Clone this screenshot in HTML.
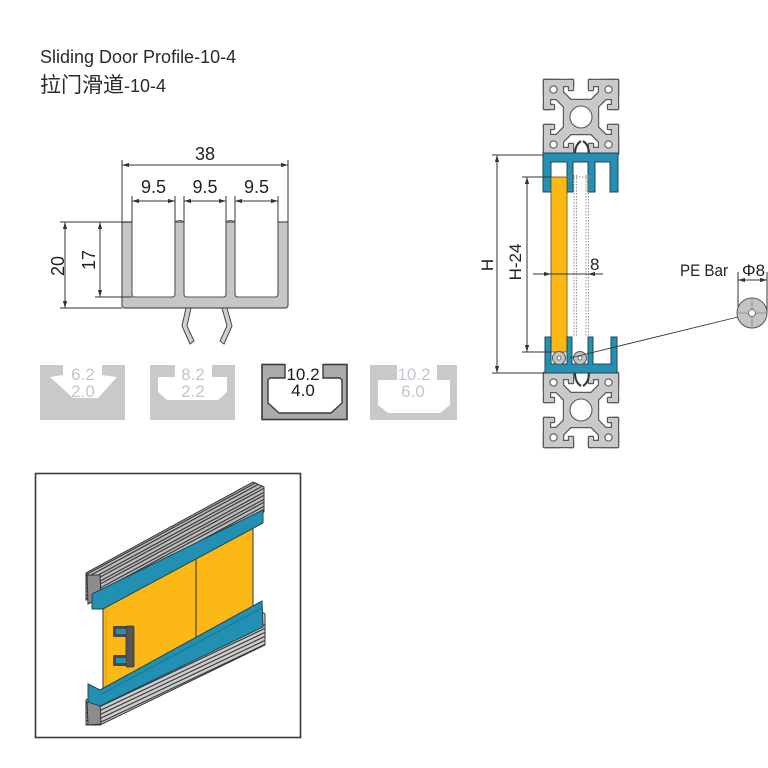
<!DOCTYPE html>
<html><head><meta charset="utf-8"><style>
html,body{margin:0;padding:0;background:#fff;}
svg{display:block;}
text{font-family:"Liberation Sans","Noto Sans CJK SC",sans-serif;}
</style></head><body>
<svg width="768" height="768" viewBox="0 0 768 768" xmlns="http://www.w3.org/2000/svg">
<defs>
<marker id="ar" viewBox="0 0 10 6" refX="10" refY="3" markerWidth="7" markerHeight="4.2" markerUnits="userSpaceOnUse" orient="auto-start-reverse"><path d="M0,0 L10,3 L0,6 z" fill="#333"/></marker>
<g id="alu">
 <g fill="#5a5a5a" stroke="#5a5a5a" stroke-width="2.4" stroke-linejoin="round">
  <rect x="0" y="0" width="19" height="19" rx="3"/><rect x="55" y="0" width="19" height="19" rx="3"/>
  <rect x="0" y="55" width="19" height="19" rx="3"/><rect x="55" y="55" width="19" height="19" rx="3"/>
  <rect x="0" y="0" width="29" height="6"/><rect x="45" y="0" width="29" height="6"/>
  <rect x="25" y="0" width="4" height="10"/><rect x="45" y="0" width="4" height="10"/>
  <rect x="0" y="68" width="29" height="6"/><rect x="45" y="68" width="29" height="6"/>
  <rect x="25" y="64" width="4" height="10"/><rect x="45" y="64" width="4" height="10"/>
  <rect x="0" y="0" width="6" height="29"/><rect x="0" y="45" width="6" height="29"/>
  <rect x="0" y="25" width="10" height="4"/><rect x="0" y="45" width="10" height="4"/>
  <rect x="68" y="0" width="6" height="29"/><rect x="68" y="45" width="6" height="29"/>
  <rect x="64" y="25" width="10" height="4"/><rect x="64" y="45" width="10" height="4"/>
  <rect x="20" y="20" width="34" height="34" rx="4"/>
  <path d="M12,12 L62,62 M62,12 L12,62" fill="none" stroke-width="12"/>
 </g>
 <g fill="#c9c9c9">
  <rect x="0" y="0" width="19" height="19" rx="3"/><rect x="55" y="0" width="19" height="19" rx="3"/>
  <rect x="0" y="55" width="19" height="19" rx="3"/><rect x="55" y="55" width="19" height="19" rx="3"/>
  <rect x="0" y="0" width="29" height="6"/><rect x="45" y="0" width="29" height="6"/>
  <rect x="25" y="0" width="4" height="10"/><rect x="45" y="0" width="4" height="10"/>
  <rect x="0" y="68" width="29" height="6"/><rect x="45" y="68" width="29" height="6"/>
  <rect x="25" y="64" width="4" height="10"/><rect x="45" y="64" width="4" height="10"/>
  <rect x="0" y="0" width="6" height="29"/><rect x="0" y="45" width="6" height="29"/>
  <rect x="0" y="25" width="10" height="4"/><rect x="0" y="45" width="10" height="4"/>
  <rect x="68" y="0" width="6" height="29"/><rect x="68" y="45" width="6" height="29"/>
  <rect x="64" y="25" width="10" height="4"/><rect x="64" y="45" width="10" height="4"/>
  <rect x="20" y="20" width="34" height="34" rx="4"/>
  <path d="M12,12 L62,62 M62,12 L12,62" fill="none" stroke="#c9c9c9" stroke-width="9.4"/>
 </g>
 <g fill="#fff" stroke="#5a5a5a" stroke-width="1.1">
  <circle cx="9.5" cy="9.5" r="3.6"/><circle cx="64.5" cy="9.5" r="3.6"/>
  <circle cx="9.5" cy="64.5" r="3.6"/><circle cx="64.5" cy="64.5" r="3.6"/>
  <circle cx="37" cy="37" r="11"/>
 </g>
</g>
<clipPath id="c1"><polygon points="86,573 253,482 264,487 264,512 100,597 86,600"/></clipPath>
<clipPath id="c2"><polygon points="86,700 262,612 265,614 265,645 100,725 86,725"/></clipPath>
</defs>

<!-- Title -->
<text x="40" y="63" font-size="18" fill="#2a2a2a">Sliding Door Profile-10-4</text>
<text x="40" y="92" font-size="18" fill="#2a2a2a"><tspan font-size="21">拉门滑道</tspan>-10-4</text>

<!-- Profile cross-section -->
<path d="M122,222 H288 V305 Q288,308 285,308 H125 Q122,308 122,305 Z" fill="#c6c6c6" stroke="#555" stroke-width="1.2"/>
<g fill="#fff">
 <path d="M132,221 V294 Q132,297 135,297 H172 Q175,297 175,294 V221 Z"/>
 <path d="M184,221 V294 Q184,297 187,297 H223 Q226,297 226,294 V221 Z"/>
 <path d="M235,221 V294 Q235,297 238,297 H275 Q278,297 278,294 V221 Z"/>
</g>
<g fill="none" stroke="#555" stroke-width="1.1">
 <path d="M132,222 V294 Q132,297 135,297 H172 Q175,297 175,294 V222"/>
 <path d="M184,222 V294 Q184,297 187,297 H223 Q226,297 226,294 V222"/>
 <path d="M235,222 V294 Q235,297 238,297 H275 Q278,297 278,294 V222"/>
 <path d="M175,222 Q179.5,219 184,222 M226,222 Q230.5,219 235,222"/>
</g>
<!-- clips -->
<polygon points="186,308 191,308 187,326 194,341 190,344 182,326" fill="#d0d0d0" stroke="#444" stroke-width="1"/>
<polygon points="222,308 227,308 232,326 224,344 220,341 227,326" fill="#d0d0d0" stroke="#444" stroke-width="1"/>

<!-- dimensions left drawing -->
<g stroke="#333" stroke-width="1" fill="none">
 <line x1="122" y1="160" x2="122" y2="222"/>
 <line x1="288" y1="160" x2="288" y2="222"/>
 <line x1="122" y1="165" x2="288" y2="165" marker-start="url(#ar)" marker-end="url(#ar)"/>
 <line x1="132" y1="196" x2="132" y2="222"/><line x1="175" y1="196" x2="175" y2="222"/>
 <line x1="184" y1="196" x2="184" y2="222"/><line x1="226" y1="196" x2="226" y2="222"/>
 <line x1="235" y1="196" x2="235" y2="222"/><line x1="278" y1="196" x2="278" y2="222"/>
 <line x1="132" y1="201" x2="175" y2="201" marker-start="url(#ar)" marker-end="url(#ar)"/>
 <line x1="184" y1="201" x2="226" y2="201" marker-start="url(#ar)" marker-end="url(#ar)"/>
 <line x1="235" y1="201" x2="278" y2="201" marker-start="url(#ar)" marker-end="url(#ar)"/>
 <line x1="60" y1="222" x2="132" y2="222"/>
 <line x1="60" y1="308" x2="122" y2="308"/>
 <line x1="95" y1="297" x2="132" y2="297"/>
 <line x1="65" y1="222" x2="65" y2="308" marker-start="url(#ar)" marker-end="url(#ar)"/>
 <line x1="100" y1="222" x2="100" y2="297" marker-start="url(#ar)" marker-end="url(#ar)"/>
</g>
<g font-size="18" fill="#222" text-anchor="middle">
 <text x="205" y="160">38</text>
 <text x="153.5" y="193">9.5</text>
 <text x="205" y="193">9.5</text>
 <text x="256.5" y="193">9.5</text>
 <text transform="translate(64,266) rotate(-90)">20</text>
 <text transform="translate(95,260) rotate(-90)">17</text>
</g>

<!-- T-slot shapes -->
<rect x="40" y="365" width="85" height="55" fill="#c9c9c9"/>
<polygon points="63,364 102,364 102,375 117,377 98,398 73,398 50,377 63,375" fill="#fff"/>
<rect x="150" y="365" width="85" height="55" fill="#c9c9c9"/>
<polygon points="175,364 212,364 212,377 227,377 227,392 218,400 167,400 158,392 158,377 175,377" fill="#fff"/>
<rect x="262" y="364.5" width="85" height="55" fill="#ababab" stroke="#3a3a3a" stroke-width="1.6"/>
<polygon points="285,363 323,363 323,378 340,378 342,380 342,403 331,413 279,413 268,403 268,380 270,378 285,378" fill="#fff"/>
<path d="M285,364 V378 H270 L268,380 V403 L279,413 H331 L342,403 V380 L340,378 H323 V364" fill="none" stroke="#3a3a3a" stroke-width="1.4"/>
<rect x="370" y="365" width="87" height="55" fill="#c9c9c9"/>
<polygon points="397,364 437,364 437,380 450,380 450,405 440,413 388,413 378,405 378,380 397,380" fill="#fff"/>
<g font-size="17" text-anchor="middle" fill="#c2c6ce">
 <text x="83" y="380">6.2</text><text x="83" y="397">2.0</text>
 <text x="193" y="380">8.2</text><text x="193" y="397">2.2</text>
 <text x="414" y="380">10.2</text><text x="413" y="397">6.0</text>
</g>
<g font-size="17" text-anchor="middle" fill="#1a1a1a">
 <text x="303" y="380">10.2</text><text x="303" y="396">4.0</text>
</g>

<!-- Right assembly -->
<use href="#alu" transform="translate(544,80)"/>
<use href="#alu" transform="translate(544,373)"/>
<path d="M575,155 C575,146 578,143 581,141 M589,155 C589,146 586,143 583,141" fill="none" stroke="#333" stroke-width="2"/>
<path d="M575,372 C575,381 578,384 581,386 M589,372 C589,381 586,384 583,386" fill="none" stroke="#333" stroke-width="2"/>
<path d="M543,153 H618 V192 H610 V162 H595 V192 H588 V162 H573 V192 H567 V162 H551 V192 H543 Z" fill="#2690b2" stroke="#1d4654" stroke-width="1"/>
<!-- dashed second panel -->
<g stroke="#8a8a8a" stroke-width="0.9" stroke-dasharray="1.5 1.5" fill="none">
 <line x1="574" y1="175" x2="574" y2="337"/><line x1="576.5" y1="175" x2="576.5" y2="337"/>
 <line x1="586" y1="175" x2="586" y2="337"/><line x1="588.5" y1="175" x2="588.5" y2="337"/>
 <line x1="567" y1="177" x2="590" y2="177"/>
</g>
<rect x="551" y="177" width="16" height="175" fill="#fbb714" stroke="#5a4a20" stroke-width="0.8"/>
<path d="M545,373 H617 V337 H611 V364 H593 V337 H588 V364 H572 V337 H567 V364 H551 V337 H545 Z" fill="#2690b2" stroke="#1d4654" stroke-width="1"/>
<g fill="#c4c4c4" stroke="#555" stroke-width="1">
 <circle cx="559" cy="358" r="6.5"/><circle cx="580" cy="358" r="6.5"/>
</g>
<g fill="#fff" stroke="#555" stroke-width="0.8"><circle cx="559" cy="358" r="2"/><circle cx="580" cy="358" r="2"/></g>

<!-- right dims -->
<g stroke="#333" stroke-width="1" fill="none">
 <line x1="492" y1="155" x2="543" y2="155"/>
 <line x1="492" y1="373" x2="545" y2="373"/>
 <line x1="497" y1="155" x2="497" y2="373" marker-start="url(#ar)" marker-end="url(#ar)"/>
 <line x1="522" y1="177" x2="551" y2="177"/>
 <line x1="522" y1="352" x2="551" y2="352"/>
 <line x1="527" y1="177" x2="527" y2="352" marker-start="url(#ar)" marker-end="url(#ar)"/>
 <line x1="533" y1="274" x2="603" y2="274"/>
 <line x1="540" y1="274" x2="551" y2="274" marker-end="url(#ar)"/>
 <line x1="598" y1="274" x2="588" y2="274" marker-end="url(#ar)"/>
 <line x1="738" y1="272" x2="738" y2="313"/>
 <line x1="767" y1="272" x2="767" y2="313"/>
 <line x1="738" y1="280" x2="767" y2="280" marker-start="url(#ar)" marker-end="url(#ar)"/>
 <line x1="738" y1="317" x2="570" y2="358" stroke-width="0.9"/>
</g>
<circle cx="752" cy="313" r="15" fill="#c4c4c4" stroke="#555" stroke-width="1"/>
<path d="M737,313 H767 M752,298 V328" stroke="#8a8a8a" stroke-width="0.8"/>
<circle cx="752" cy="313" r="3.5" fill="#fff" stroke="#555" stroke-width="0.8"/>
<g font-size="17" fill="#222">
 <text transform="translate(493,265) rotate(-90)" text-anchor="middle">H</text>
 <text transform="translate(521,262) rotate(-90)" text-anchor="middle">H-24</text>
 <text x="590" y="270">8</text>
 <text x="680" y="276" textLength="48" lengthAdjust="spacingAndGlyphs">PE Bar</text>
 <text x="742" y="276">Φ8</text>
</g>

<!-- 3D box -->
<rect x="35.5" y="473.5" width="265" height="264" fill="#fff" stroke="#3a3a3a" stroke-width="1.6"/>
<!-- yellow panels -->
<polygon points="103,606 253,524 253,616 103,698" fill="#fcb816"/>
<g stroke="#333" stroke-width="1" fill="none">
 <line x1="103" y1="606" x2="103" y2="698"/>
 <line x1="196" y1="558" x2="196" y2="645"/>
 <line x1="253" y1="524" x2="253" y2="606"/>
</g>
<line x1="106" y1="608" x2="106" y2="694" stroke="#e8a000" stroke-width="1"/>
<!-- top aluminum -->
<polygon points="86,573 253,482 264,487 264,512 100,597 86,600" fill="#bdbdbd" stroke="#333" stroke-width="1"/>
<g clip-path="url(#c1)" stroke="#3a3a3a" stroke-width="1.2">
 <line x1="80" y1="578" x2="270" y2="475"/>
 <line x1="80" y1="581" x2="270" y2="478"/>
 <line x1="80" y1="585" x2="270" y2="482"/>
 <line x1="80" y1="588" x2="270" y2="485"/>
 <line x1="80" y1="592" x2="270" y2="489"/>
 <line x1="80" y1="595" x2="270" y2="492"/>
 <line x1="80" y1="599" x2="270" y2="496"/>
 <line x1="80" y1="602" x2="270" y2="499"/>
 <line x1="80" y1="606" x2="270" y2="503"/>
 <line x1="80" y1="609" x2="270" y2="506"/>
 <line x1="80" y1="613" x2="270" y2="510"/>
 <line x1="80" y1="616" x2="270" y2="513"/>
</g>
<polygon points="87,575 100,575 101,598 88,604" fill="#8c8c8c" stroke="#333" stroke-width="1"/>
<!-- top teal -->
<polygon points="92,594 263,510 263,523 103,609 92,609" fill="#2190b2" stroke="#1d4654" stroke-width="1"/>
<!-- bottom aluminum -->
<polygon points="86,700 262,612 265,614 265,645 100,725 86,725" fill="#cdcdcd" stroke="#333" stroke-width="1"/>
<g clip-path="url(#c2)" stroke="#3a3a3a" stroke-width="1.2">
 <line x1="80" y1="712" x2="270" y2="622"/>
 <line x1="80" y1="716" x2="270" y2="626"/>
 <line x1="80" y1="720" x2="270" y2="630"/>
 <line x1="80" y1="724" x2="270" y2="634"/>
 <line x1="80" y1="728" x2="270" y2="638"/>
 <line x1="80" y1="732" x2="270" y2="642"/>
</g>
<polygon points="87,702 100,702 101,724 88,725" fill="#8c8c8c" stroke="#333" stroke-width="1"/>
<!-- bottom teal -->
<polygon points="88,684 100,690 262,601 263,627 100,706 88,702" fill="#2190b2" stroke="#1d4654" stroke-width="1"/>
<line x1="100" y1="695" x2="262" y2="608" stroke="#1d6f88" stroke-width="0.8"/>
<!-- handle -->
<rect x="113" y="626" width="20" height="11" rx="1.5" fill="#4a4a4a"/>
<rect x="113" y="655" width="20" height="11" rx="1.5" fill="#4a4a4a"/>
<rect x="126" y="626" width="8" height="41" rx="1.5" fill="#555" stroke="#333" stroke-width="0.8"/>
<rect x="116" y="629" width="10" height="5" fill="#2190b2"/>
<rect x="116" y="658" width="10" height="5" fill="#2190b2"/>
</svg>
</body></html>
